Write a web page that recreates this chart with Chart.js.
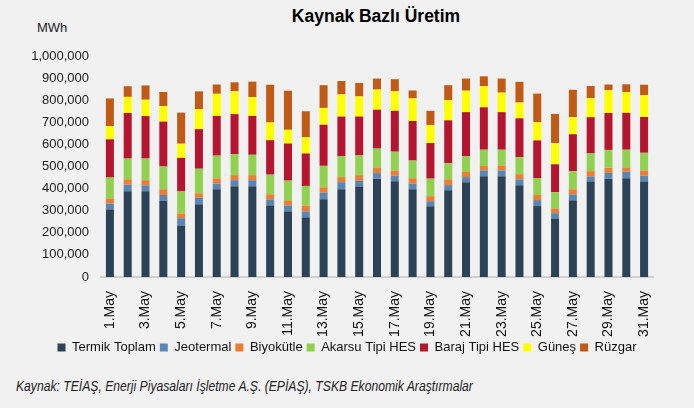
<!DOCTYPE html>
<html>
<head>
<meta charset="utf-8">
<script src="https://cdn.jsdelivr.net/npm/chart.js@4.4.1/dist/chart.umd.min.js"></script>
<style>
    body { margin: 0; background: #f1f1f1; }
    #wrap { position: relative; width: 694px; height: 408px; overflow: hidden; background: #f1f1f1; }
    #title { position: absolute; top: 6px; left: 0; width: 694px; padding-left: 58px; box-sizing: border-box; text-align: center; font: bold 17.5px "Liberation Sans", sans-serif; color: #000; }
    #unit { position: absolute; top: 20px; left: 37px; font: 13px "Liberation Sans", sans-serif; color: #222; }
    #box { position: absolute; top: 0; left: 0; width: 694px; height: 364px; }
    #source { position: absolute; top: 377px; left: 16px; font: italic 15px "Liberation Sans", sans-serif; color: #222; white-space: nowrap; transform: scaleX(0.81); transform-origin: left center; }
</style>
</head>
<body>
<div id="wrap">
    <div id="title">Kaynak Bazlı Üretim</div>
    <div id="unit">MWh</div>
    <div id="box"><canvas id="chart"></canvas></div>
    <div id="source">Kaynak: TEİAŞ, Enerji Piyasaları İşletme A.Ş. (EPİAŞ), TSKB Ekonomik Araştırmalar</div>
</div>
<script>
// gün etiketleri
const days = [];
for (let d = 1; d <= 31; d++) days.push(d + '.May');

// kaynak bazlı günlük üretim (MWh)
const termik = [306000, 388000, 388000, 345000, 233000, 329000, 397000, 411000, 411000, 324000, 297000, 270000, 352000, 397000, 409000, 444000, 433000, 397000, 320000, 392000, 429000, 456000, 456000, 415000, 321000, 265000, 347000, 432000, 445000, 447000, 432000];
const jeotermal = [26000, 30000, 27000, 26000, 33000, 30000, 26000, 27000, 27000, 27000, 27000, 27000, 30000, 32000, 26000, 26000, 26000, 26000, 23000, 24000, 23000, 26000, 26000, 27000, 27000, 24000, 27000, 23000, 26000, 29000, 27000];
const biyokutle = [24000, 24000, 23000, 26000, 21000, 20000, 23000, 23000, 23000, 23000, 23000, 26000, 24000, 23000, 26000, 26000, 23000, 24000, 23000, 26000, 23000, 20000, 23000, 23000, 23000, 21000, 23000, 24000, 24000, 20000, 23000];
const akarsu = [94000, 94000, 98000, 103000, 100000, 111000, 103000, 94000, 92000, 89000, 89000, 89000, 97000, 94000, 89000, 85000, 85000, 80000, 79000, 73000, 71000, 74000, 71000, 77000, 77000, 74000, 82000, 80000, 80000, 80000, 80000];
const baraj = [173000, 206000, 192000, 203000, 152000, 179000, 180000, 182000, 176000, 156000, 168000, 147000, 186000, 180000, 176000, 176000, 185000, 179000, 161000, 194000, 200000, 192000, 170000, 176000, 170000, 126000, 167000, 164000, 167000, 167000, 162000];
const gunes = [59000, 73000, 74000, 70000, 64000, 91000, 100000, 103000, 85000, 80000, 62000, 73000, 76000, 100000, 91000, 91000, 88000, 102000, 82000, 92000, 97000, 95000, 88000, 71000, 82000, 95000, 77000, 86000, 103000, 94000, 98000];
const ruzgar = [126000, 48000, 65000, 64000, 141000, 80000, 42000, 41000, 70000, 171000, 177000, 118000, 103000, 61000, 61000, 50000, 55000, 36000, 64000, 67000, 55000, 45000, 64000, 94000, 130000, 133000, 124000, 55000, 26000, 35000, 48000];

const series = [
    { label: 'Termik Toplam', data: termik, color: '#2b4257' },
    { label: 'Jeotermal', data: jeotermal, color: '#5b86b3' },
    { label: 'Biyokütle', data: biyokutle, color: '#ed7d31' },
    { label: 'Akarsu Tipi HES', data: akarsu, color: '#92d050' },
    { label: 'Baraj Tipi HES', data: baraj, color: '#b5152f' },
    { label: 'Güneş', data: gunes, color: '#ffff00' },
    { label: 'Rüzgar', data: ruzgar, color: '#c05a14' }
];

const font = "'Liberation Sans', sans-serif";

new Chart(document.getElementById('chart'), {
    type: 'bar',
    data: {
        labels: days,
        datasets: series.map(s => ({
            label: s.label,
            data: s.data,
            backgroundColor: s.color,
            borderWidth: 0,
            barPercentage: 0.45,
            categoryPercentage: 1
        }))
    },
    options: {
        responsive: true,
        maintainAspectRatio: false,
        animation: false,
        layout: { padding: { top: 56, right: 0, left: 0, bottom: 0 } },
        plugins: {
            title: { display: false },
            tooltip: { enabled: false },
            legend: {
                position: 'bottom',
                labels: {
                    boxWidth: 8,
                    boxHeight: 8,
                    padding: 4,
                    color: '#111',
                    font: { family: font, size: 13 }
                }
            }
        },
        scales: {
            x: {
                stacked: true,
                grid: { display: false },
                border: { display: true, color: '#d0d0d0', width: 2 },
                ticks: {
                    autoSkip: false,
                    maxRotation: 90,
                    minRotation: 90,
                    padding: 6,
                    color: '#111',
                    font: { family: font, size: 14 },
                    callback: (v, i) => i % 2 === 0 ? days[i] : ''
                },
                afterFit: s => { s.height = 60; }
            },
            y: {
                stacked: true,
                min: 0,
                max: 1000000,
                grid: { display: false, drawTicks: false },
                border: { display: false },
                ticks: {
                    stepSize: 100000,
                    padding: 12,
                    color: '#222',
                    font: { family: font, size: 13 },
                    callback: v => v.toLocaleString('en-US')
                },
                afterFit: s => { s.width = 101; }
            },
            // sağ boşluk için görünmez eksen (lejant ortalansın diye)
            yRight: {
                position: 'right',
                grid: { display: false, drawTicks: false },
                border: { display: false },
                ticks: { display: false },
                afterFit: s => { s.width = 41; }
            }
        }
    }
});
</script>
</body>
</html>
